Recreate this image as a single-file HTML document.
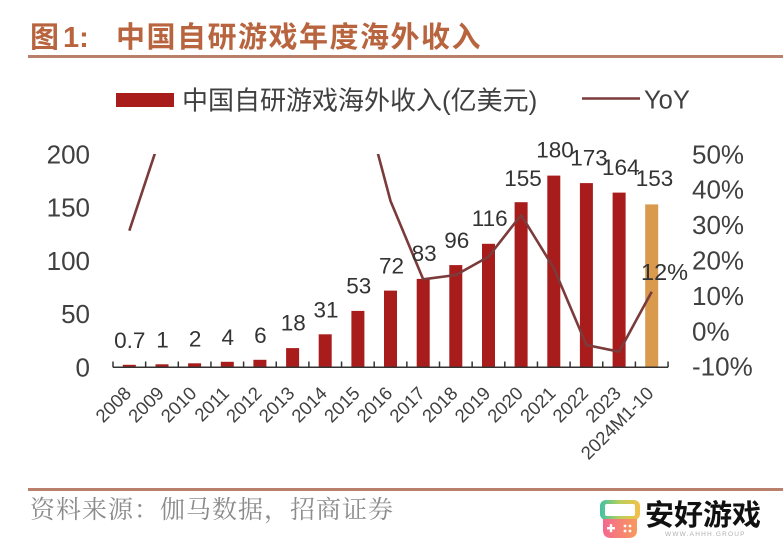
<!DOCTYPE html>
<html>
<head>
<meta charset="utf-8">
<style>
  html,body{margin:0;padding:0;background:#fff;}
  body{width:783px;height:545px;overflow:hidden;}
  svg{display:block;}
  .cjk{font-family:"Liberation Sans","Noto Sans CJK SC",sans-serif;}
  .num{font-family:"Liberation Sans",sans-serif;}
</style>
</head>
<body>
<svg width="783" height="545" viewBox="0 0 783 545" xmlns="http://www.w3.org/2000/svg">
  <defs>
    <clipPath id="plotclip"><rect x="100" y="154" width="600" height="240"/></clipPath>
    <linearGradient id="topg" x1="0" y1="0" x2="1" y2="0">
      <stop offset="0" stop-color="#3fc1a5"/>
      <stop offset="0.5" stop-color="#b9cf5a"/>
      <stop offset="1" stop-color="#f3c04a"/>
    </linearGradient>
    <linearGradient id="botg" x1="0" y1="0" x2="1" y2="0">
      <stop offset="0" stop-color="#f4688e"/>
      <stop offset="1" stop-color="#f79a5c"/>
    </linearGradient>
  </defs>

  <!-- Title -->
  <text x="30" y="47" class="cjk" font-size="29" font-weight="bold" fill="#b8653f">图</text>
  <text x="63" y="47" class="num" font-size="29" font-weight="bold" fill="#b8653f">1:</text>
  <text x="116" y="47" class="cjk" font-size="29" font-weight="bold" letter-spacing="1.5" fill="#b8653f">中国自研游戏年度海外收入</text>
  <rect x="28" y="55" width="755" height="3" fill="#b9806b"/>

  <!-- Legend -->
  <rect x="116" y="93" width="58" height="14" fill="#a81c1c"/>
  <text x="182" y="109.5" class="cjk" font-size="26" fill="#404040">中国自研游戏海外收入(亿美元)</text>
  <line x1="582" y1="98.5" x2="640" y2="98.5" stroke="#7b3b3b" stroke-width="2.5"/>
  <text x="644" y="108.3" class="num" font-size="25.5" fill="#404040">YoY</text>

  <!-- Left axis labels -->
  <g class="num" font-size="26" fill="#404040" text-anchor="end">
    <text x="90" y="163.3">200</text>
    <text x="90" y="216.6">150</text>
    <text x="90" y="269.8">100</text>
    <text x="90" y="323.1">50</text>
    <text x="90" y="376.3">0</text>
  </g>

  <!-- Right axis labels -->
  <g class="num" font-size="26" fill="#404040">
    <text x="692" y="163.3">50%</text>
    <text x="692" y="198.7">40%</text>
    <text x="692" y="234.1">30%</text>
    <text x="692" y="269.5">20%</text>
    <text x="692" y="304.9">10%</text>
    <text x="692" y="340.3">0%</text>
    <text x="692" y="375.7">-10%</text>
  </g>

  <!-- Bars -->
  <g fill="#a81c1c">
    <rect x="122.8" y="364.8" width="13" height="2.5"/>
    <rect x="155.5" y="364.3" width="13" height="3"/>
    <rect x="188.1" y="363.3" width="13" height="4"/>
    <rect x="220.8" y="361.8" width="13" height="5.5"/>
    <rect x="253.4" y="359.8" width="13" height="7.5"/>
    <rect x="286.1" y="348.1" width="13" height="19.2"/>
    <rect x="318.7" y="334.3" width="13" height="33"/>
    <rect x="351.4" y="310.9" width="13" height="56.4"/>
    <rect x="384.0" y="290.6" width="13" height="76.7"/>
    <rect x="416.7" y="278.9" width="13" height="88.4"/>
    <rect x="449.3" y="265.1" width="13" height="102.2"/>
    <rect x="482.0" y="243.8" width="13" height="123.5"/>
    <rect x="514.6" y="202.2" width="13" height="165.1"/>
    <rect x="547.3" y="175.6" width="13" height="191.7"/>
    <rect x="579.9" y="183.1" width="13" height="184.2"/>
    <rect x="612.6" y="192.6" width="13" height="174.7"/>
  </g>
  <rect x="645.2" y="204.4" width="13" height="162.9" fill="#d99a4e"/>

  <!-- Axis line and ticks -->
  <g stroke="#333" stroke-width="1.5">
    <line x1="113" y1="367.3" x2="668" y2="367.3"/>
    <line x1="113.00" y1="361.5" x2="113.00" y2="367.3"/>
    <line x1="145.65" y1="361.5" x2="145.65" y2="367.3"/>
    <line x1="178.30" y1="361.5" x2="178.30" y2="367.3"/>
    <line x1="210.95" y1="361.5" x2="210.95" y2="367.3"/>
    <line x1="243.60" y1="361.5" x2="243.60" y2="367.3"/>
    <line x1="276.25" y1="361.5" x2="276.25" y2="367.3"/>
    <line x1="308.90" y1="361.5" x2="308.90" y2="367.3"/>
    <line x1="341.55" y1="361.5" x2="341.55" y2="367.3"/>
    <line x1="374.20" y1="361.5" x2="374.20" y2="367.3"/>
    <line x1="406.85" y1="361.5" x2="406.85" y2="367.3"/>
    <line x1="439.50" y1="361.5" x2="439.50" y2="367.3"/>
    <line x1="472.15" y1="361.5" x2="472.15" y2="367.3"/>
    <line x1="504.80" y1="361.5" x2="504.80" y2="367.3"/>
    <line x1="537.45" y1="361.5" x2="537.45" y2="367.3"/>
    <line x1="570.10" y1="361.5" x2="570.10" y2="367.3"/>
    <line x1="602.75" y1="361.5" x2="602.75" y2="367.3"/>
    <line x1="635.40" y1="361.5" x2="635.40" y2="367.3"/>
    <line x1="668.05" y1="361.5" x2="668.05" y2="367.3"/>
  </g>

  <!-- YoY line -->
  <polyline clip-path="url(#plotclip)" fill="none" stroke="#7b3b3b" stroke-width="2.6" stroke-linejoin="round"
    points="129.33,230.7 161.98,132 194.63,40 227.28,40 259.93,40 292.58,40 325.23,40 357.88,78.4 390.53,201 423.18,279.3 455.83,275 488.48,256.7 521.13,215 553.78,268 586.43,345 619.08,351.7 651.73,291.7"/>

  <!-- Bar value labels -->
  <g class="num" font-size="22.5" fill="#333" text-anchor="middle">
    <text x="129.8" y="347.8">0.7</text>
    <text x="162.5" y="347.3">1</text>
    <text x="195.1" y="346.3">2</text>
    <text x="227.8" y="344.8">4</text>
    <text x="260.4" y="342.8">6</text>
    <text x="293.3" y="330.6">18</text>
    <text x="326.0" y="317.3">31</text>
    <text x="358.8" y="293.6">53</text>
    <text x="391.5" y="273.4">72</text>
    <text x="424.2" y="261.0">83</text>
    <text x="456.8" y="248.0">96</text>
    <text x="489.7" y="225.8">116</text>
    <text x="523.0" y="186.0">155</text>
    <text x="555.0" y="157.6">180</text>
    <text x="589.0" y="165.6">173</text>
    <text x="620.8" y="175.0">164</text>
    <text x="654.5" y="186.2">153</text>
  </g>
  <text x="641" y="280" class="num" font-size="23.5" fill="#333">12%</text>

  <!-- X axis labels -->
  <g class="num" font-size="18.5" fill="#404040" text-anchor="end">
    <text transform="translate(132.3,394.5) rotate(-45)">2008</text>
    <text transform="translate(165.0,394.5) rotate(-45)">2009</text>
    <text transform="translate(197.6,394.5) rotate(-45)">2010</text>
    <text transform="translate(230.3,394.5) rotate(-45)">2011</text>
    <text transform="translate(262.9,394.5) rotate(-45)">2012</text>
    <text transform="translate(295.6,394.5) rotate(-45)">2013</text>
    <text transform="translate(328.2,394.5) rotate(-45)">2014</text>
    <text transform="translate(360.9,394.5) rotate(-45)">2015</text>
    <text transform="translate(393.5,394.5) rotate(-45)">2016</text>
    <text transform="translate(426.2,394.5) rotate(-45)">2017</text>
    <text transform="translate(458.8,394.5) rotate(-45)">2018</text>
    <text transform="translate(491.5,394.5) rotate(-45)">2019</text>
    <text transform="translate(524.1,394.5) rotate(-45)">2020</text>
    <text transform="translate(556.8,394.5) rotate(-45)">2021</text>
    <text transform="translate(589.4,394.5) rotate(-45)">2022</text>
    <text transform="translate(622.1,394.5) rotate(-45)">2023</text>
    <text transform="translate(654.7,394.5) rotate(-45)">2024M1-10</text>
  </g>

  <!-- Footer -->
  <rect x="28" y="488" width="755" height="3" fill="#b9806b"/>
  <text x="30" y="518" font-family="'Noto Serif CJK SC','Liberation Serif',serif" font-size="25" letter-spacing="1" fill="#8c8c8c">资料来源：伽马数据，招商证券</text>

  <!-- Logo -->
  <g>
    <rect x="600" y="500" width="40" height="20" rx="6" fill="url(#topg)"/>
    <rect x="605" y="504" width="30" height="12" rx="2" fill="#fff"/>
    <path d="M603 519 H637 V530 Q637 538 629 538 H611 Q603 538 603 530 Z" fill="url(#botg)"/>
    <rect x="607" y="527" width="8" height="2.4" fill="#fff"/>
    <rect x="609.8" y="524.2" width="2.4" height="8" fill="#fff"/>
    <circle cx="625" cy="526" r="1.4" fill="#fff"/>
    <circle cx="630" cy="526" r="1.4" fill="#fff"/>
    <circle cx="625" cy="531" r="1.4" fill="#fff"/>
    <circle cx="630" cy="531" r="1.4" fill="#fff"/>
  </g>
  <text x="645" y="525" class="cjk" font-size="29" font-weight="bold" fill="#111">安好游戏</text>
  <text x="665" y="536" class="num" font-size="6.5" letter-spacing="1.2" fill="#b0b0b0">WWW.AHHH.GROUP</text>
</svg>
</body>
</html>
